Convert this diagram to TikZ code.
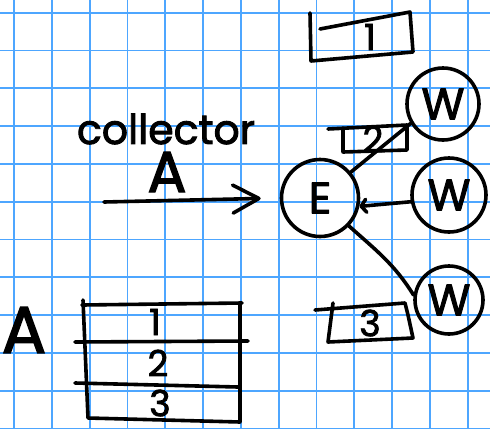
\documentclass[tikz,border=0pt]{standalone}
\usepackage{fontspec}
\setmainfont{Poppins}
\newfontfamily\penfont{Poppins}[FakeBold=2.2]
\usetikzlibrary{arrows.meta}
\definecolor{gridblue}{HTML}{4DA6FF}
\begin{document}
\begin{tikzpicture}[x=1pt,y=-1pt,
  ink/.style={line width=3.6pt, line cap=round, line join=round, draw=black},
  gridline/.style={line width=1.8pt, draw=gridblue},
  hand/.style={inner sep=0pt, font=\penfont\fontsize{#1}{#1}\selectfont},
  digit/.style={hand=36},
  bubble/.style={ink, circle, inner sep=0pt, hand=44},
  bigtip/.style={-{Straight Barb[length=26pt,width=28pt,round]}},
  smalltip/.style={-{Straight Barb[length=5pt,width=13pt,round]}}]

% paper
\useasboundingbox (0,0) rectangle (490,429);
\fill[white] (0,0) rectangle (490,429);
\foreach \k in {0,...,12} \draw[gridline] ({14+37.8*\k},0) -- ({14+37.8*\k},429);
\foreach \k in {0,...,11} \draw[gridline] (0,{12.7+37.8*\k}) -- (490,{12.7+37.8*\k});

% labels of the collector arrow
\node[hand=41] (coll) at (166,129) {collector};
\node[hand=58] (collA) at (167,172) {A};
\coordinate (src) at (104,202);

% the E node and its three W nodes
\node[bubble, minimum size=77pt] (E) at (320,198) {E};
\node[bubble, minimum size=72pt] (Wtop) at (443,104) {W};
\node[bubble, minimum size=74pt] (Wmid) at (449,195) {W};
\node[bubble, minimum size=68pt] (Wbot) at (449,300) {W};

\draw[ink, bigtip, shorten >=19pt] (src) -- (E.west);
\draw[ink] (E.40) -- (Wtop.211);
\draw[ink, smalltip] (Wmid.190) -- (E.-12);
\draw[ink] (E.-44) to[out=-42, in=122] (Wbot.172);

% box 1
\draw[ink] (320,29) -- (410,12) -- (413,52) -- (311,61) -- (310,13);
\node[digit] (b1) at (370,37) {1};

% box 2
\draw[ink] (328,129) -- (407,125) -- (407,150) -- (343,152) -- (343,128);
\node[digit] (b2) at (373,139) {2};

% box 3
\draw[ink] (315,310) -- (405,303) -- (408,315) -- (413,338) -- (328,342) -- (333,303);
\node[digit] (b3) at (370,323) {3};

% table A
\node[hand=66] (tabA) at (24,330) {A};
\draw[ink] (82,305) -- (242,303);
\draw[ink] (83,300) -- (88,418) -- (240,422) -- (240,303);
\draw[ink] (75,342) -- (248,341);
\draw[ink] (75,383) -- (238,387);
\node[digit] (t1) at (155,322) {1};
\node[digit] (t2) at (158,363) {2};
\node[digit] (t3) at (160,403) {3};
\end{tikzpicture}
\end{document}
